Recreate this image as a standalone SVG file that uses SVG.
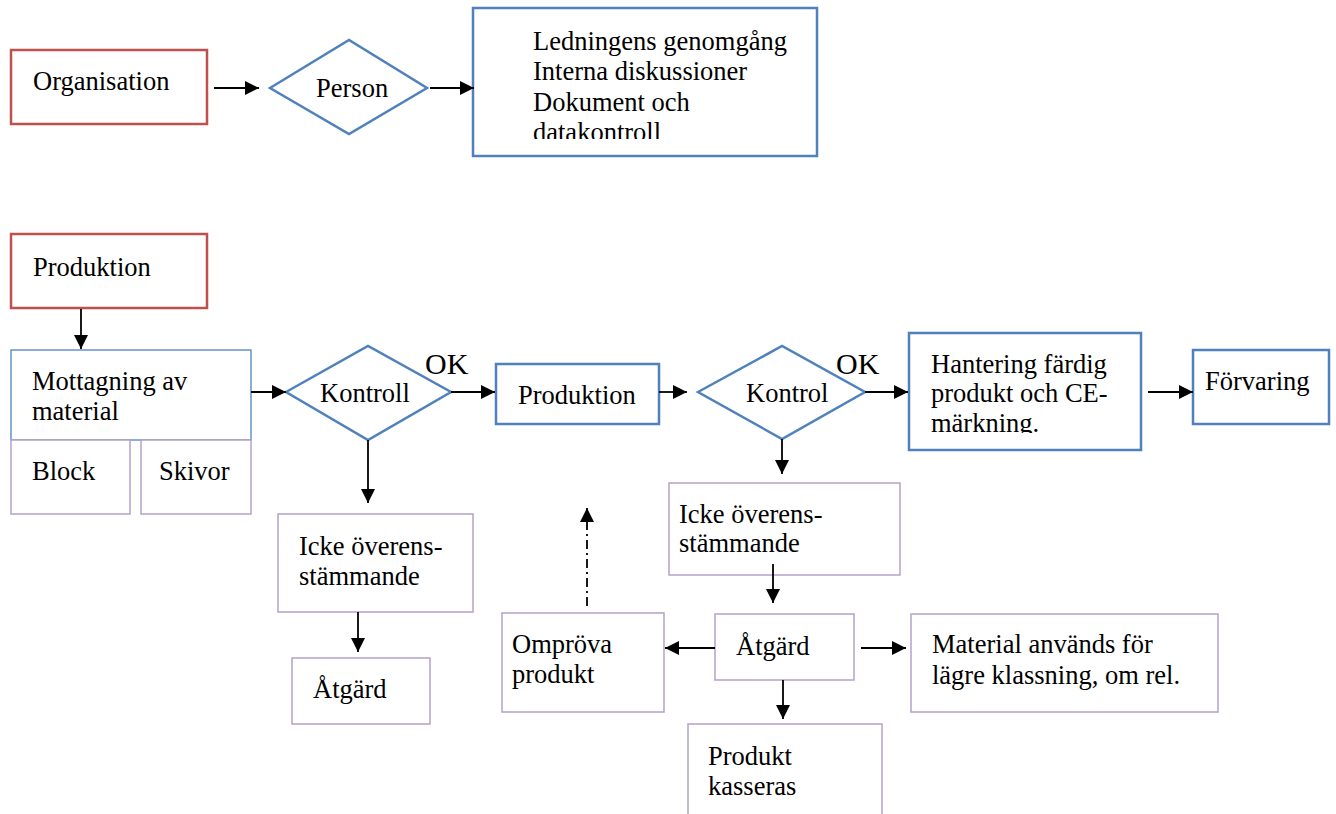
<svg xmlns="http://www.w3.org/2000/svg" width="1336" height="814" viewBox="0 0 1336 814">
<style>
text{font-family:"Liberation Serif","Times New Roman",serif;font-size:26.5px;fill:#000}
.ok{font-size:30px}
.red{fill:#fff;stroke:#c0504d;stroke-width:2.5}
.blue{fill:#fff;stroke:#4f81bd;stroke-width:2.5}
.thinblue{fill:#fff;stroke:#4f81bd;stroke-width:1.3}
.purple{fill:#fff;stroke:#b3a2c7;stroke-width:1.5}
.conn{stroke:#000;stroke-width:1.8;fill:none;marker-end:url(#ah)}
.dd{stroke-dasharray:9 4 2 4}
</style>
<defs>
<marker id="ah" markerUnits="userSpaceOnUse" markerWidth="16" markerHeight="16" refX="14" refY="7" orient="auto">
<path d="M0,0 L14,7 L0,14 z" fill="#000"/>
</marker>
<clipPath id="c1"><rect x="473" y="8" width="344" height="131"/></clipPath>
<clipPath id="c2"><rect x="909" y="333" width="232" height="100"/></clipPath>
</defs>

<g id="organisation"><rect class="red" x="11" y="50" width="196" height="74"/><text x="33" y="90">Organisation</text></g>
<g id="person"><polygon class="blue" points="270,88 349,40 427,88 349,134"/><text x="316" y="97">Person</text></g>
<g id="ledning"><rect class="blue" x="473" y="8" width="344" height="148"/>
<g clip-path="url(#c1)"><text x="533" y="49.5">Ledningens genomgång</text><text x="533" y="80">Interna diskussioner</text><text x="533" y="110.5">Dokument och</text><text x="533" y="141">datakontroll</text></g></g>

<g id="produktion1"><rect class="red" x="11" y="234" width="196" height="74"/><text x="33" y="276">Produktion</text></g>
<g id="mottagning"><rect class="thinblue" x="11" y="350" width="240" height="90"/><text x="32" y="390">Mottagning av</text><text x="32" y="420">material</text></g>
<g id="block"><rect class="purple" x="11" y="440" width="119" height="74"/><text x="32" y="480">Block</text></g>
<g id="skivor"><rect class="purple" x="141" y="440" width="110" height="74"/><text x="159" y="480">Skivor</text></g>
<g id="kontroll1"><polygon class="blue" points="286,392 368,346 451,392 368,440"/><text x="320" y="402">Kontroll</text></g>
<g id="ok1"><text class="ok" x="425" y="374">OK</text></g>
<g id="produktion2"><rect class="blue" x="496" y="364" width="163" height="60"/><text x="518" y="404">Produktion</text></g>
<g id="kontrol2"><polygon class="blue" points="698,392 782,346 865,392 782,439"/><text x="746" y="402">Kontrol</text></g>
<g id="ok2"><text class="ok" x="836" y="374">OK</text></g>
<g id="hantering"><rect class="blue" x="909" y="333" width="232" height="117"/>
<g clip-path="url(#c2)"><text x="931" y="373">Hantering färdig</text><text x="931" y="402">produkt och CE-</text><text x="931" y="432">märkning.</text></g></g>
<g id="forvaring"><rect class="blue" x="1193" y="350" width="136" height="74"/><text x="1205" y="390">Förvaring</text></g>

<g id="icke1"><rect class="purple" x="278" y="514" width="195" height="98"/><text x="299" y="555">Icke överens-</text><text x="299" y="585">stämmande</text></g>
<g id="atgard1"><rect class="purple" x="292" y="658" width="138" height="66"/><text x="313" y="698">Åtgärd</text></g>
<g id="icke2"><rect class="purple" x="669" y="483" width="231" height="92"/><text x="679" y="523">Icke överens-</text><text x="679" y="552">stämmande</text></g>
<g id="atgard2"><rect class="purple" x="715" y="614" width="139" height="66"/><text x="736" y="655">Åtgärd</text></g>
<g id="omprova"><rect class="purple" x="502" y="613" width="162" height="99"/><text x="512" y="653">Ompröva</text><text x="512" y="683">produkt</text></g>
<g id="material"><rect class="purple" x="911" y="614" width="307" height="98"/><text x="932" y="653">Material används för</text><text x="932" y="684">lägre klassning, om rel.</text></g>
<g id="produkt"><rect class="purple" x="688" y="724" width="194" height="100"/><text x="708" y="765">Produkt</text><text x="708" y="795">kasseras</text></g>

<g id="connectors">
<line class="conn" x1="214" y1="88" x2="259" y2="88"/>
<line class="conn" x1="430" y1="88" x2="474" y2="88"/>
<line class="conn" x1="81" y1="309" x2="81" y2="349"/>
<line class="conn" x1="251" y1="392" x2="286" y2="392"/>
<line class="conn" x1="451" y1="392" x2="495" y2="392"/>
<line class="conn" x1="368" y1="440" x2="368" y2="503"/>
<line class="conn" x1="358" y1="612" x2="358" y2="652"/>
<line class="conn" x1="659" y1="392" x2="687" y2="392"/>
<line class="conn" x1="865" y1="392" x2="908" y2="392"/>
<line class="conn" x1="1148" y1="392" x2="1193" y2="392"/>
<line class="conn" x1="782" y1="439" x2="782" y2="474"/>
<line class="conn" x1="773" y1="564" x2="773" y2="603"/>
<line class="conn" x1="715" y1="648" x2="665" y2="648"/>
<line class="conn" x1="861" y1="648" x2="906" y2="648"/>
<line class="conn" x1="783" y1="680" x2="783" y2="719"/>
<line class="conn dd" x1="587" y1="606" x2="587" y2="508"/>
</g>
</svg>
